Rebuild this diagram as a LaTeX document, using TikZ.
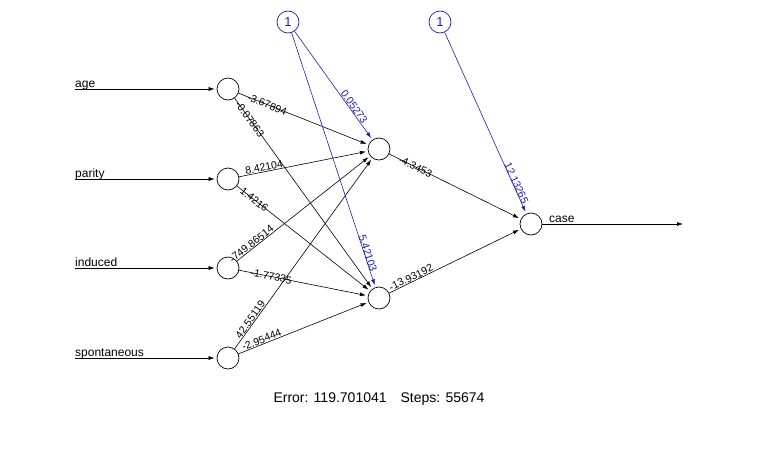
\documentclass[tikz,border=0pt]{standalone}
\usepackage{fontspec}
\setmainfont{Liberation Sans}
\usetikzlibrary{arrows.meta}
\definecolor{biasblue}{RGB}{30,30,170}
\tikzset{
  neuron/.style={circle, draw=black, line width=0.7pt, minimum size=22pt, inner sep=0pt},
  biasnode/.style={circle, draw=biasblue, text=biasblue, line width=0.7pt, minimum size=22pt, inner sep=0pt, font=\fontsize{13}{13}\selectfont},
  conn/.style={line width=0.6pt, -{Latex[length=6pt,width=4pt]}, shorten >=2pt},
  bconn/.style={conn, draw=biasblue},
  wlab/.style={sloped, font=\fontsize{10.5}{10.5}\selectfont, inner sep=0.5pt},
  bwlab/.style={wlab, text=biasblue},
  inlab/.style={anchor=base west, font=\fontsize{12}{12}\selectfont, inner sep=0pt}
}
\begin{document}
\begin{tikzpicture}[x=1pt,y=-1pt]
\useasboundingbox (0,0) rectangle (758,450);
% nodes
\node[neuron] (i1) at (228,89) {};
\node[neuron] (i2) at (228,179) {};
\node[neuron] (i3) at (228,268) {};
\node[neuron] (i4) at (228,358) {};
\node[neuron] (h1) at (379,149) {};
\node[neuron] (h2) at (379,298) {};
\node[neuron] (o1) at (531,224) {};
\node[biasnode] (b1) at (288,22) {1};
\node[biasnode] (b2) at (440,22) {1};
% input stubs
\coordinate (s1) at (75,89);
\coordinate (s2) at (75,179);
\coordinate (s3) at (75,268);
\coordinate (s4) at (75,358);
\coordinate (oe) at (683,224);
\node[inlab] (l1) at (75,87.5) {age};
\node[inlab] (l2) at (75,177.5) {parity};
\node[inlab] (l3) at (75,266.5) {induced};
\node[inlab] (l4) at (75,356.5) {spontaneous};
\node[inlab] (lo) at (549,222.5) {case};
\draw[conn] (s1) -- (i1);
\draw[conn] (s2) -- (i2);
\draw[conn] (s3) -- (i3);
\draw[conn] (s4) -- (i4);
\draw[conn, shorten >=0pt] (o1) -- (oe);
% input -> hidden
\draw[conn] (i1) -- node[wlab, pos=0.22] {-3.67894} (h1);
\draw[conn] (i1) -- node[wlab, pos=0.11] {-0.07863} (h2);
\draw[conn] (i2) -- node[wlab, above, pos=0.2] {8.42104} (h1);
\draw[conn] (i2) -- node[wlab, pos=0.13] {1.4216} (h2);
\draw[conn] (i3) -- node[wlab, above, pos=0.13] {-749.86514} (h1);
\draw[conn] (i3) -- node[wlab, pos=0.25] {-1.77335} (h2);
\draw[conn] (i4) -- node[wlab, above, pos=0.14] {42.55119} (h1);
\draw[conn] (i4) -- node[wlab, above, pos=0.19] {-2.95444} (h2);
% bias -> hidden
\draw[bconn] (b1) -- node[bwlab, above, pos=0.72] {0.05273} (h1);
\draw[bconn] (b1) -- node[bwlab, above=-1pt, pos=0.87] {5.42103} (h2);
% hidden -> output
\draw[conn] (h1) -- node[wlab, pos=0.2] {-4.3453} (o1);
\draw[conn] (h2) -- node[wlab, above, pos=0.18] {-13.93192} (o1);
\draw[bconn] (b2) -- node[bwlab, above=-1pt, pos=0.84] {12.13265} (o1);
% footer
\node[font=\fontsize{14}{14}\selectfont] (err) at (379,399) {Error: 119.701041\quad Steps: 55674};
\end{tikzpicture}
\end{document}
